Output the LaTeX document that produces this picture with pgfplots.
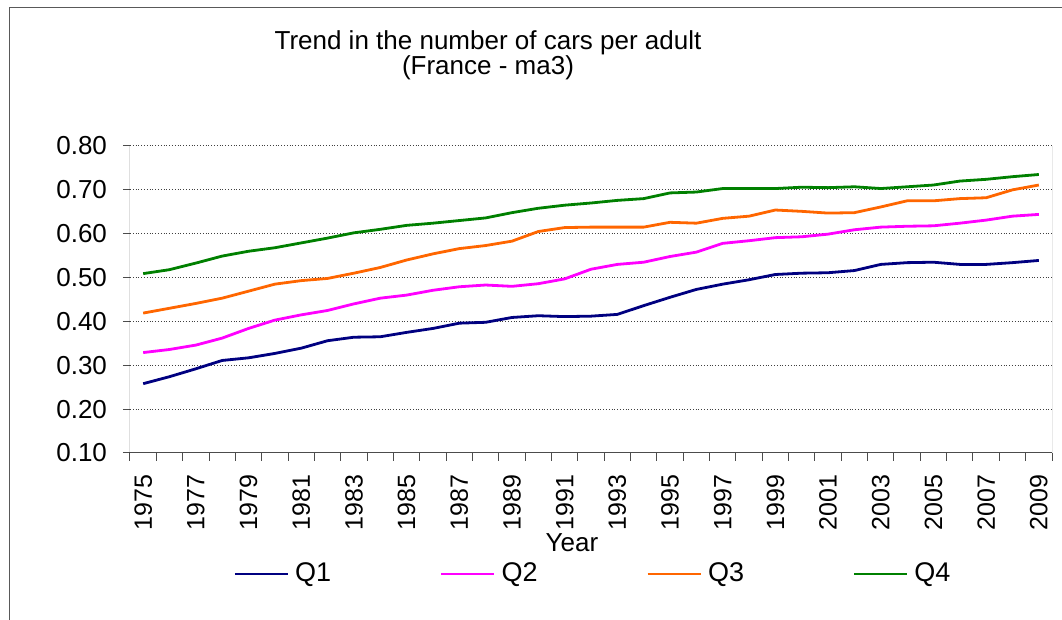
\documentclass[border=0pt]{standalone}
\usepackage{pgfplots}
\pgfplotsset{compat=1.18}
\usepackage{pgfplotstable}
\usepackage{fontspec}
\setmainfont{Liberation Sans}
\definecolor{cQ1}{RGB}{0,0,128}
\definecolor{cQ2}{RGB}{255,0,255}
\definecolor{cQ3}{RGB}{255,102,0}
\definecolor{cQ4}{RGB}{0,128,0}
\pgfplotstableread{
year q1 q2 q3 q4
1975 0.258 0.329 0.419 0.509
1976 0.274 0.336 0.430 0.518
1977 0.292 0.346 0.441 0.533
1978 0.311 0.362 0.453 0.549
1979 0.317 0.384 0.469 0.560
1980 0.327 0.403 0.485 0.568
1981 0.339 0.415 0.493 0.579
1982 0.356 0.425 0.498 0.590
1983 0.364 0.440 0.510 0.602
1984 0.365 0.453 0.523 0.610
1985 0.375 0.460 0.540 0.619
1986 0.384 0.471 0.554 0.624
1987 0.396 0.479 0.566 0.630
1988 0.398 0.483 0.573 0.636
1989 0.409 0.480 0.583 0.648
1990 0.413 0.486 0.605 0.658
1991 0.411 0.497 0.614 0.665
1992 0.412 0.519 0.615 0.670
1993 0.416 0.530 0.615 0.676
1994 0.436 0.535 0.615 0.680
1995 0.455 0.548 0.626 0.693
1996 0.473 0.558 0.624 0.695
1997 0.485 0.578 0.635 0.703
1998 0.495 0.584 0.640 0.703
1999 0.507 0.591 0.654 0.703
2000 0.510 0.593 0.651 0.706
2001 0.511 0.599 0.647 0.705
2002 0.516 0.609 0.648 0.707
2003 0.530 0.615 0.661 0.703
2004 0.534 0.617 0.675 0.707
2005 0.535 0.618 0.675 0.711
2006 0.530 0.624 0.680 0.720
2007 0.530 0.631 0.682 0.724
2008 0.534 0.640 0.700 0.730
2009 0.539 0.644 0.711 0.735
}\datatable
\begin{document}
\begin{tikzpicture}
\useasboundingbox (0,0) rectangle (531pt,310pt);
\draw[black!65, line width=0.5pt] (4.75pt,-5pt) -- (4.75pt,306pt) -- (540pt,306pt);
\node[anchor=base, font=\fontsize{13}{15}\selectfont] at (244pt,285pt) {Trend in the number of cars per adult};
\node[anchor=base, font=\fontsize{13}{15}\selectfont] at (244pt,272.5pt) {(France - ma3)};
\begin{axis}[
  at={(65pt,83.5pt)}, anchor=south west,
  scale only axis, width=461pt, height=153.5pt,
  xmin=1974.5, xmax=2009.5, ymin=0.1, ymax=0.8,
  ytick={0.1,0.2,...,0.8},
  xtick={1975,1977,...,2009},
  minor xtick={1974.5,1975.5,...,2009.5},
  tick align=outside,
  xtick pos=bottom, ytick pos=left,
  major tick length=3.5pt, minor tick length=4pt,
  major x tick style={draw=none},
  tick style={black!70, line width=0.5pt},
  axis line style={draw=none},
  ymajorgrids, major grid style={black!75, densely dotted, line width=0.5pt},
  yticklabel style={font=\fontsize{13}{15}\selectfont, xshift=-4.5pt, /pgf/number format/.cd, fixed, fixed zerofill, precision=2, assume math mode=true},
  xticklabel style={font=\fontsize{12.5}{14}\selectfont, rotate=90, anchor=east, xshift=-4pt},
  xticklabel={\pgfmathprintnumber[fixed,precision=0,1000 sep={},assume math mode=true]{\tick}},
  xlabel={Year},
  xlabel style={font=\fontsize{13}{15}\selectfont, at={(axis description cs:0.4794,0)}, anchor=base, yshift=-49.5pt},
  legend columns=4,
  legend style={draw=none, fill=none, at={(axis description cs:0,0)}, anchor=west, xshift=51.5pt, yshift=-60.5pt,
    font=\fontsize{13.5}{15}\selectfont, inner sep=0pt, nodes={inner sep=1.5pt},
    /tikz/every even column/.append style={column sep=52.8pt}},
  legend image code/.code={\draw[#1] (0pt,0pt) -- (26.5pt,0pt); \path (28pt,0pt);},
  every axis plot/.append style={line width=1.4pt},
]
\addplot[cQ1] table[x=year, y=q1] {\datatable};
\addplot[cQ2] table[x=year, y=q2] {\datatable};
\addplot[cQ3] table[x=year, y=q3] {\datatable};
\addplot[cQ4] table[x=year, y=q4] {\datatable};
\legend{Q1,Q2,Q3,Q4}
\draw[black, line width=0.5pt] (rel axis cs:0,0) -- (rel axis cs:0,1);
\draw[black!70, line width=0.5pt] (rel axis cs:0,0) -- (rel axis cs:1,0) -- (rel axis cs:1,1);
\end{axis}
\end{tikzpicture}
\end{document}
